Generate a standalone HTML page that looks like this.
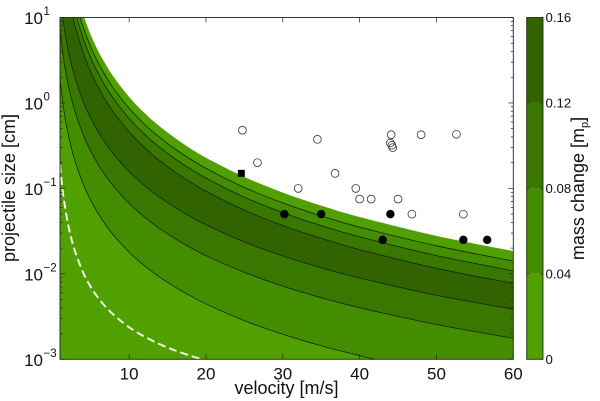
<!DOCTYPE html>
<html>
<head>
<meta charset="utf-8">
<title>Mass change contour chart</title>
<style>
html,body{margin:0;padding:0;background:#fff;width:600px;height:401px;overflow:hidden}
svg{display:block}
text{font-family:"Liberation Sans",sans-serif;fill:#111}
</style>
</head>
<body>
<svg id="chart" width="600" height="401" viewBox="0 0 600 401" xmlns="http://www.w3.org/2000/svg">
  <defs><clipPath id="plot-clip"><rect x="60" y="17.5" width="453.3" height="341.8"/></clipPath></defs>
  <g id="bands" clip-path="url(#plot-clip)"></g>
  <g id="lines" clip-path="url(#plot-clip)"></g>
  <g id="marks"></g>
  <g id="axes"></g>
  <g id="colorbar"></g>
  <text x="286.5" y="394" font-size="18" text-anchor="middle">velocity [m/s]</text>
  <text transform="translate(15,188) rotate(-90)" font-size="18" text-anchor="middle">projectile size [cm]</text>
  <text transform="translate(584,188.5) rotate(-90)" font-size="18" text-anchor="middle">mass change [m<tspan font-size="11" dy="4">p</tspan><tspan dy="-4">]</tspan></text>
</svg>
<script>
// Axis tick values
const xTicks = [10, 20, 30, 40, 50, 60];
const yDecades = [-3, -2, -1, 0, 1];
const cbTicks = [0, 0.04, 0.08, 0.12, 0.16];
const cbLabels = ["0", "0.04", "0.08", "0.12", "0.16"];
const bandColors = ["#4fa000", "#448c00", "#3a7700", "#316400"];

// Contour boundaries: velocity (m/s) and log10 of size (cm)
const edgeV = [4.13, 5, 6, 7, 8, 10, 12, 14, 17, 20, 25, 30, 35, 40, 50, 60];
const edgeLog = [1, 0.797, 0.604, 0.443, 0.302, 0.07, -0.118, -0.276, -0.474, -0.641, -0.866, -1.049, -1.202, -1.335, -1.556, -1.734];
const line1V = [3.6, 4, 5, 6, 7, 8, 10, 12, 14, 17, 20, 25, 30, 35, 40, 50, 60];
const line1Log = [1, 0.888, 0.655, 0.465, 0.305, 0.167, -0.063, -0.249, -0.406, -0.602, -0.766, -0.989, -1.17, -1.323, -1.454, -1.672, -1.85];
const line2V = [3.17, 4, 5, 6, 7, 8, 10, 12, 14, 17, 20, 25, 30, 35, 40, 50, 60];
const line2Log = [1, 0.759, 0.527, 0.341, 0.182, 0.046, -0.182, -0.366, -0.522, -0.716, -0.88, -1.103, -1.283, -1.436, -1.567, -1.787, -1.964];
const line3V = [2.69, 3, 4, 5, 6, 7, 8, 10, 12, 14, 17, 20, 25, 30, 35, 40, 50, 60];
const line3Log = [1, 0.888, 0.592, 0.364, 0.178, 0.021, -0.114, -0.339, -0.522, -0.677, -0.87, -1.033, -1.254, -1.434, -1.585, -1.716, -1.935, -2.112];
const line4V = [1.35, 1.5, 2, 2.5, 3, 4, 5, 6, 7, 8, 10, 12, 14, 17, 20, 25, 30, 35, 40, 50, 60];
const line4Log = [1, 0.905, 0.646, 0.445, 0.281, 0.022, -0.179, -0.342, -0.481, -0.601, -0.802, -0.966, -1.104, -1.278, -1.425, -1.626, -1.79, -1.929, -2.049, -2.25, -2.413];
const line5V = [1, 1.5, 2, 2.5, 3, 4, 5, 6, 7, 8, 10, 12, 14, 17, 20, 25, 30, 35, 40, 50, 60];
const line5Log = [0.854, 0.497, 0.243, 0.046, -0.114, -0.367, -0.564, -0.725, -0.861, -0.978, -1.175, -1.335, -1.471, -1.642, -1.786, -1.983, -2.143, -2.279, -2.396, -2.593, -2.754];
const line6V = [1, 1.5, 2, 2.5, 3, 4, 5, 6, 7, 8, 10, 12, 14, 17, 20, 25, 30, 35, 40, 42.02];
const line6Log = [0.268, -0.086, -0.338, -0.534, -0.693, -0.944, -1.14, -1.299, -1.434, -1.551, -1.746, -1.905, -2.04, -2.209, -2.352, -2.548, -2.707, -2.842, -2.958, -3];
const dashV = [1, 1.25, 1.5, 2, 2.5, 3, 4, 5, 6, 7, 8, 10, 12, 14, 16, 18, 19.49];
const dashLog = [-0.727, -0.953, -1.129, -1.397, -1.595, -1.749, -1.982, -2.153, -2.285, -2.392, -2.482, -2.625, -2.735, -2.824, -2.897, -2.959, -3];

// Observations: velocity (m/s), size (cm)
const openV = [24.74, 26.7, 34.5, 36.8, 32, 39.5, 40, 41.5, 45, 46.8, 44.1, 44, 44.2, 44.3, 48, 52.6, 53.5];
const openSize = [0.48, 0.2, 0.375, 0.15, 0.1, 0.1, 0.075, 0.075, 0.075, 0.05, 0.425, 0.34, 0.32, 0.3, 0.425, 0.43, 0.05];
const filledV = [30.2, 35, 44, 43, 53.5, 56.6];
const filledSize = [0.05, 0.05, 0.05, 0.025, 0.025, 0.025];
const squareV = [24.6];
const squareSize = [0.15];

const NS = "http://www.w3.org/2000/svg";
const L = 60, R = 513.3, T = 17.5, B = 359.3, CL = 526.7, CR = 543;
const X = v => L + (v - 1) * (R - L) / 59;
const Y = e => T + (1 - e) * (B - T) / 4;
const CY = m => B - m * (B - T) / 0.16;

function make(tag, parent, attrs) {
  const el = document.createElementNS(NS, tag);
  for (const k in attrs) el.setAttribute(k, attrs[k]);
  parent.appendChild(el);
  return el;
}
function pts(vs, logs) { return vs.map((v, i) => [X(v), Y(logs[i])]); }
function curve(p) {
  let d = "";
  for (let i = 0; i < p.length - 1; i++) {
    const a = p[Math.max(i - 1, 0)], b = p[i], c = p[i + 1], e = p[Math.min(i + 2, p.length - 1)];
    d += "C" + (b[0] + (c[0] - a[0]) / 6).toFixed(2) + " " + (b[1] + (c[1] - a[1]) / 6).toFixed(2) + " " +
      (c[0] - (e[0] - b[0]) / 6).toFixed(2) + " " + (c[1] - (e[1] - b[1]) / 6).toFixed(2) + " " +
      c[0].toFixed(2) + " " + c[1].toFixed(2);
  }
  return d;
}
function band(upper, lower) {
  const low = lower ? lower.slice().reverse() : null;
  let d = "M" + upper[0][0] + " " + upper[0][1] + curve(upper) + "L" + R + " " + B;
  if (low) d += "L" + low[0][0] + " " + low[0][1] + curve(low);
  else d += "L" + L + " " + B;
  return d + "L" + L + " " + T + "Z";
}

const edge = pts(edgeV, edgeLog), c1 = pts(line1V, line1Log), c2 = pts(line2V, line2Log),
  c3 = pts(line3V, line3Log), c4 = pts(line4V, line4Log), c5 = pts(line5V, line5Log), c6 = pts(line6V, line6Log);

const bandsG = document.getElementById("bands");
const b0 = make("path", bandsG, { d: band(edge, null), fill: bandColors[0] });


const b1 = make("path", bandsG, { d: band(c1, c6), fill: bandColors[1] });


const b2 = make("path", bandsG, { d: band(c2, c5), fill: bandColors[2] });


const b3 = make("path", bandsG, { d: band(c3, c4), fill: bandColors[3] });



const linesG = document.getElementById("lines");
[c1, c2, c3, c4, c5, c6].forEach(p => {
  const line = make("path", linesG, { d: "M" + p[0][0] + " " + p[0][1] + curve(p), fill: "none", stroke: "#0f2a00", "stroke-width": 0.8 });
  
  
});
const dp = pts(dashV, dashLog);
const dashLine = make("path", linesG, { d: "M" + dp[0][0] + " " + dp[0][1] + curve(dp), fill: "none", stroke: "#eef5e0", "stroke-width": 2, "stroke-dasharray": "8 4" });



const marksG = document.getElementById("marks");
openV.forEach((v, i) => {
  const m = make("circle", marksG, { cx: X(v), cy: Y(Math.log10(openSize[i])), r: 3.9, fill: "none", stroke: "#333", "stroke-width": 0.8 });
  
  
});
filledV.forEach((v, i) => {
  const m = make("circle", marksG, { cx: X(v), cy: Y(Math.log10(filledSize[i])), r: 4.2, fill: "#000" });
  
  
});
squareV.forEach((v, i) => {
  const m = make("rect", marksG, { x: X(v) - 3.5, y: Y(Math.log10(squareSize[i])) - 3.5, width: 7, height: 7, fill: "#000" });
  
  
});

const axesG = document.getElementById("axes");
function tick(x1, y1, x2, y2, parent) {
  const t = make("line", parent, { x1: x1, y1: y1, x2: x2, y2: y2, stroke: "#222", "stroke-width": 0.7 });
  
  
}
const frame = make("rect", axesG, { x: L, y: T, width: R - L, height: B - T, fill: "none", stroke: "#222", "stroke-width": 0.9 });


xTicks.forEach(v => {
  tick(X(v), B, X(v), B - 5, axesG);
  tick(X(v), T, X(v), T + 5, axesG);
  const t = make("text", axesG, { x: X(v), y: 379.5, "font-size": 17, "text-anchor": "middle" });
  t.textContent = String(v);
  
  
});
yDecades.forEach(e => {
  const y = Y(e);
  tick(L, y, L + 5, y, axesG);
  tick(R, y, R - 5, y, axesG);
  if (e < 1) {
    for (let m = 2; m < 10; m++) {
      const my = Y(e + Math.log10(m));
      tick(L, my, L + 2.5, my, axesG);
      tick(R, my, R - 2.5, my, axesG);
    }
  }
  const base = make("text", axesG, { x: 43, y: y + 6.5, "font-size": 17, "text-anchor": "end" });
  base.textContent = "10";
  
  
  const sup = make("text", axesG, { x: 43.5, y: y - 2.5, "font-size": 11.5 });
  sup.textContent = e < 0 ? "\u2212" + (-e) : String(e);
  
  
});

const cbG = document.getElementById("colorbar");
bandColors.forEach((c, i) => {
  const seg = make("rect", cbG, { x: CL, y: CY(cbTicks[i + 1]), width: CR - CL, height: CY(cbTicks[i]) - CY(cbTicks[i + 1]), fill: c });
  
  
});
const cbFrame = make("rect", cbG, { x: CL, y: T, width: CR - CL, height: B - T, fill: "none", stroke: "#1c3300", "stroke-width": 0.9 });


cbTicks.forEach((m, i) => {
  tick(CL, CY(m), CL + 2.5, CY(m), cbG);
  tick(CR, CY(m), CR - 2.5, CY(m), cbG);
  const t = make("text", cbG, { x: 545.5, y: CY(m) + 4.5, "font-size": 13.2 });
  t.textContent = cbLabels[i];
  
  
});
</script>
</body>
</html>
